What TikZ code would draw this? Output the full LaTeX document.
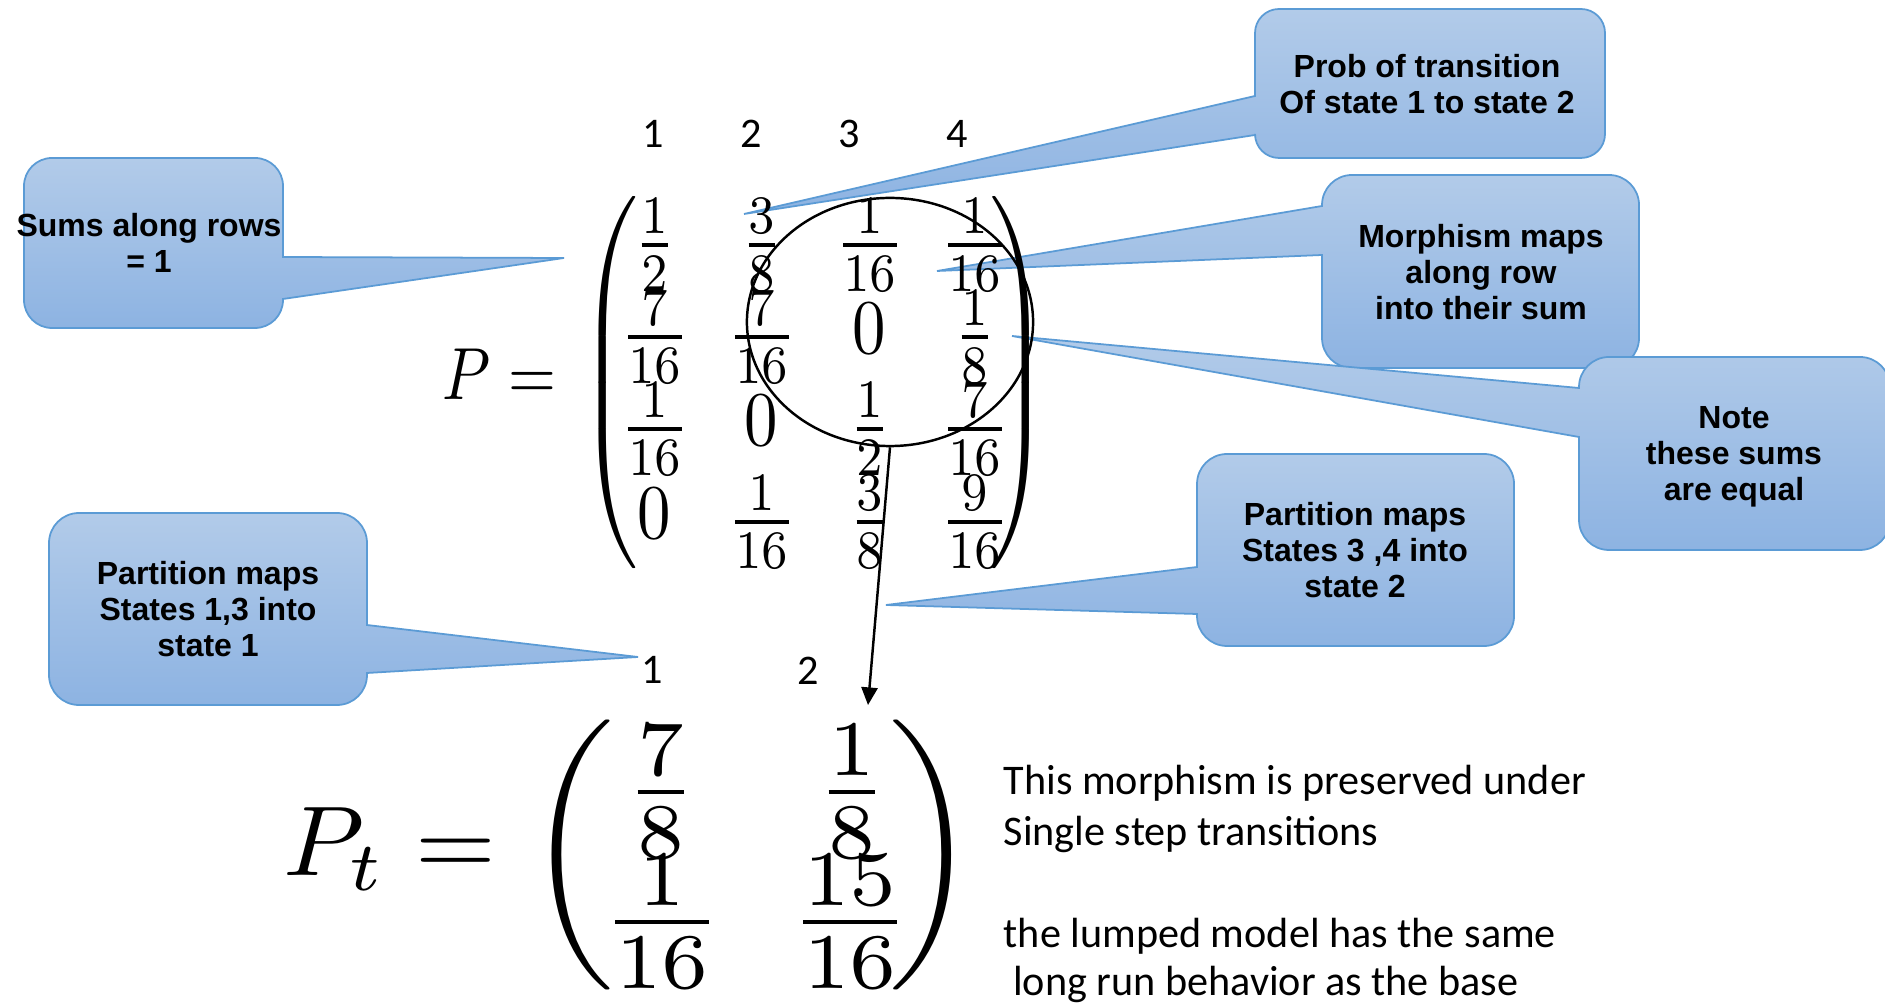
\documentclass[tikz,border=0pt]{standalone}
\usepackage{fontspec}
\usepackage{graphicx}
\usetikzlibrary{shapes.geometric,arrows.meta}
\newfontfamily\callfont{Liberation Sans}
\newfontfamily\carlito{Carlito}
\definecolor{ctop}{HTML}{B2CBE9}
\definecolor{cbot}{HTML}{8DB3E2}
\definecolor{cedge}{HTML}{5B9BD5}
\newcommand\PM[1]{\scalebox{1.9}[2.2]{$\nulldelimiterspace=0pt #1$}}
\newcommand\PT[1]{\scalebox{3.35}[3.2]{$\nulldelimiterspace=0pt #1$}}
% callout with pointer on the right edge: L T R B p1 p2 tip radius
\newcommand\callR[8]{\path[cbubble] ({#1+#8},#2) -- ({#3-#8},#2) arc[start angle=-90,end angle=0,radius=#8] -- (#3,#5) -- (#7) -- (#3,#6) -- (#3,{#4-#8}) arc[start angle=0,end angle=90,radius=#8] -- ({#1+#8},#4) arc[start angle=90,end angle=180,radius=#8] -- (#1,{#2+#8}) arc[start angle=180,end angle=270,radius=#8] -- cycle;}
% callout with pointer on the left edge
\newcommand\callL[8]{\path[cbubble] ({#1+#8},#2) -- ({#3-#8},#2) arc[start angle=-90,end angle=0,radius=#8] -- (#3,{#4-#8}) arc[start angle=0,end angle=90,radius=#8] -- ({#1+#8},#4) arc[start angle=90,end angle=180,radius=#8] -- (#1,#6) -- (#7) -- (#1,#5) -- (#1,{#2+#8}) arc[start angle=180,end angle=270,radius=#8] -- cycle;}
\tikzset{
  cbubble/.style={draw=cedge, line width=0.5pt, top color=ctop, bottom color=cbot},
  calltext/.style={font=\callfont\bfseries\fontsize{9.1}{10.2}\selectfont, align=center, inner sep=0pt},
  lab/.style={font=\carlito\fontsize{12}{14.4}\selectfont, inner sep=0pt, anchor=base},
  body/.style={font=\carlito\fontsize{12}{14.4}\selectfont, inner sep=0pt, anchor=base west},
  mth/.style={inner sep=0pt, outer sep=0pt}
}
\begin{document}
\begin{tikzpicture}[x=0.01cm, y=-0.01cm]
\fill[white] (0,0) rectangle (1885,1004);
\useasboundingbox (0,0) rectangle (1885,1004);

% pointer tips
\coordinate (tipA) at (564,258);
\coordinate (tipB) at (744,214);
\coordinate (tipC) at (937,271);
\coordinate (tipD) at (1012,336);
\coordinate (tipE) at (886,605);
\coordinate (tipF) at (638,657);

% callouts
\callR{24}{158}{283}{328}{257}{299}{tipA}{28}
\callL{1255}{9}{1605}{158}{96}{135}{tipB}{24}
\callL{1322}{175}{1639}{368}{206}{255}{tipC}{30}
\callL{1579}{357}{1890}{550}{388}{437}{tipD}{30}
\callL{1197}{454}{1514}{646}{567}{614}{tipE}{30}
\callR{49}{513}{367}{705}{625}{673}{tipF}{30}

\node[calltext] (tA) at (149,243.3) {Sums along rows\\= 1};
\node[calltext] (tB) at (1427,84.3) {Prob of transition\\Of state 1 to state 2};
\node[calltext] (tC) at (1481,271.8) {Morphism maps\\along row\\into their sum};
\node[calltext] (tD) at (1734,456.7) {Note\\these sums\\are equal};
\node[calltext] (tE) at (1355,550) {Partition maps\\States 3 ,4 into\hspace*{0.28em}\\state 2};
\node[calltext] (tF) at (208,608.8) {Partition maps\\States 1,3 into\hspace*{0.28em}\\state 1};

% column labels
\node[lab] (c1) at (653,148) {1};
\node[lab] (c2) at (751,148) {2};
\node[lab] (c3) at (849,148) {3};
\node[lab] (c4) at (957,148) {4};
\node[lab] (d1) at (652,684) {1};
\node[lab] (d2) at (808,685) {2};

% matrix P
\node[mth, anchor=base east] (Peq) at (556,399.5) {\scalebox{1.75}[2.1]{$P =$}};
\node[mth] (lpP) at (608.5,382.5) {\PM{\delimiterfactor=1000 \delimitershortfall=0pt \left(\rule[-21.5pt]{0pt}{48pt}\right.}};
\node[mth] (rpP) at (1020,382.5) {\PM{\delimiterfactor=1000 \delimitershortfall=0pt \left.\rule[-21.5pt]{0pt}{48pt}\right)}};
\node[mth] (m11) at (655,245) {\PM{\frac{1}{2}}};
\node[mth] (m12) at (762,245) {\PM{\frac{3}{8}}};
\node[mth] (m13) at (870,245) {\PM{\frac{1}{16}}};
\node[mth] (m14) at (975,245) {\PM{\frac{1}{16}}};
\node[mth] (m21) at (655,337) {\PM{\frac{7}{16}}};
\node[mth] (m22) at (762,337) {\PM{\frac{7}{16}}};
\node[mth] (m23) at (869,329) {\PM{0}};
\node[mth] (m24) at (975,337) {\PM{\frac{1}{8}}};
\node[mth] (m31) at (655,429) {\PM{\frac{1}{16}}};
\node[mth] (m32) at (761,421) {\PM{0}};
\node[mth] (m33) at (870,429) {\PM{\frac{1}{2}}};
\node[mth] (m34) at (975,429) {\PM{\frac{7}{16}}};
\node[mth] (m41) at (654,514) {\PM{0}};
\node[mth] (m42) at (762,522) {\PM{\frac{1}{16}}};
\node[mth] (m43) at (870,522) {\PM{\frac{3}{8}}};
\node[mth] (m44) at (975,522) {\PM{\frac{9}{16}}};

% matrix P_t
\node[mth, anchor=base east] (Pteq) at (496,876) {\scalebox{2.95}[2.82]{$P_t =$}};
\node[mth] (lpT) at (571,855) {\PT{\biggl(}};
\node[mth] (rpT) at (933,855) {\PT{\biggr)}};
\node[mth] (t11) at (661,792) {\PT{\frac{7}{8}}};
\node[mth] (t12) at (852,792) {\PT{\frac{1}{8}}};
\node[mth] (t21) at (662,922) {\PT{\frac{1}{16}}};
\node[mth] (t22) at (850,922) {\PT{\frac{15}{16}}};

% body text
\node[body] (b1) at (1003,795) {This morphism is preserved under};
\node[body] (b2) at (1003,846) {Single step transitions};
\node[body] (b3) at (1003,947) {the lumped model has the same};
\node[body] (b4) at (1003,995) {\ long run behavior as the base};

% ellipse and arrow
\node[draw, ellipse, line width=0.7pt, minimum width=2.86cm, minimum height=2.48cm, inner sep=0pt] (circ) at (890,322) {};
\coordinate (arrend) at (868,705);
\draw[line width=0.7pt, -{Triangle[length=5pt,width=4.6pt]}] (circ.south) -- (arrend);
\end{tikzpicture}
\end{document}
